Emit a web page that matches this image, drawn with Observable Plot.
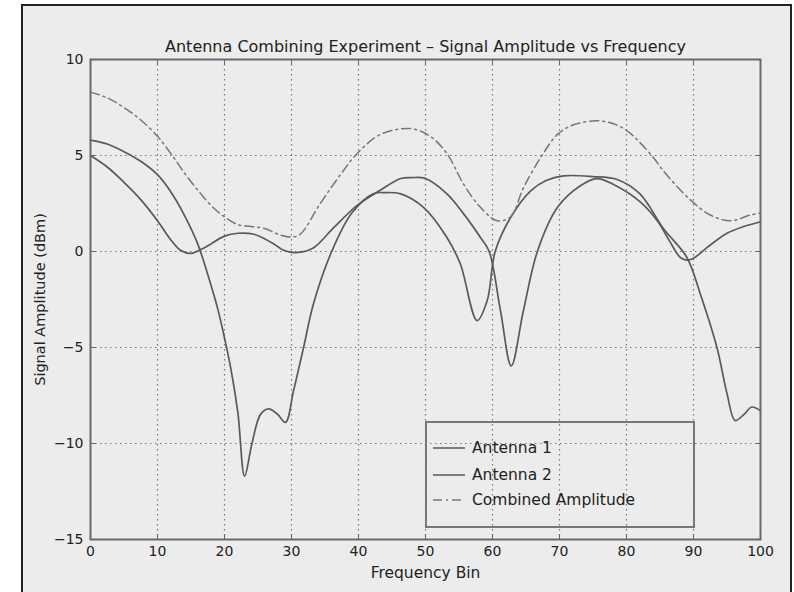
<!DOCTYPE html>
<html><head><meta charset="utf-8">
<script src="https://cdn.jsdelivr.net/npm/d3@7"></script>
<script src="https://cdn.jsdelivr.net/npm/@observablehq/plot@0.6"></script>
<style>
html,body{margin:0;padding:0;background:#fff;}
#wrap{position:relative;width:794px;height:592px;overflow:hidden;}
#panel{position:absolute;left:21px;top:4px;width:767px;height:610px;border:2px solid #222;background:#ececec;}
#chart{position:absolute;left:0;top:0;}
#legend{position:absolute;left:425px;top:421px;width:266px;height:103px;border:2px solid #777;font-family:"DejaVu Sans",sans-serif;font-size:15.5px;color:#222;}
.row{position:absolute;left:0;height:20px;}
.row svg{position:absolute;left:6px;top:0;}
.row span{position:absolute;left:45px;top:1px;white-space:nowrap;}
</style></head><body>
<div id="wrap"><div id="panel"></div><div id="chart"></div><div id="legend"></div></div>
<script>
const titleText = "Antenna Combining Experiment \u2013 Signal Amplitude vs Frequency";
const xLabel = "Frequency Bin";
const yLabel = "Signal Amplitude (dBm)";
const seriesNames = ["Antenna 1", "Antenna 2", "Combined Amplitude"];
const xTicks = [0, 10, 20, 30, 40, 50, 60, 70, 80, 90, 100];
const yTicks = [-15, -10, -5, 0, 5, 10];

const ant1Freq = [0, 2.5, 5, 7.5, 10, 12, 13.5, 15, 17, 20, 22, 24.4, 27, 29, 31, 33.3, 36.3, 39.8, 43.3, 46.3, 48, 50, 53.2, 55.7, 58.2, 59.5, 61.2, 62.8, 64.6, 66.7, 69.7, 73, 75.6, 78, 82, 84.6, 86.5, 88, 89, 90, 92, 95, 97.5, 100];
const ant1Amp  = [5.0, 4.4, 3.6, 2.7, 1.6, 0.6, 0.05, -0.1, 0.2, 0.8, 0.95, 0.9, 0.47, 0.04, -0.05, 0.2, 1.24, 2.4, 3.2, 3.8, 3.85, 3.8, 3.0, 1.96, 0.73, 0.0, -3.1, -5.96, -3.1, 0.0, 2.3, 3.4, 3.8, 3.5, 2.6, 1.6, 0.5, -0.3, -0.45, -0.35, 0.2, 0.95, 1.3, 1.55];

const ant2Freq = [0, 2.5, 5, 7.5, 10, 12, 14, 16, 17.5, 19, 20, 21, 22, 23, 24.1, 25.4, 26.6, 27.9, 29.1, 30.3, 31.8, 33.3, 36, 39, 42.2, 44, 46.3, 49.7, 53.2, 55.2, 57.7, 59.2, 60.4, 62.7, 65.7, 68, 70.6, 75, 78.6, 82, 85.5, 89, 91, 93.5, 95, 96.2, 97.5, 98.7, 100];
const ant2Amp  = [5.8, 5.6, 5.2, 4.7, 4.0, 3.1, 1.9, 0.4, -1.2, -3.0, -4.5, -6.2, -8.4, -11.7, -10.0, -8.47, -8.2, -8.47, -8.9, -7.26, -5.0, -2.7, 0.0, 2.0, 3.0, 3.07, 3.0, 2.3, 0.73, -0.65, -3.6, -2.57, 0.0, 1.77, 3.16, 3.7, 3.94, 3.9, 3.75, 3.0, 1.2, -0.3, -2.2, -5.0, -7.4, -8.8, -8.5, -8.1, -8.3];

const combFreq = [0, 2.5, 5, 7.5, 10, 12, 14, 16, 18, 20, 22, 24, 26, 28, 30, 31.3, 34.3, 37.3, 39.8, 43.3, 47.8, 50.7, 53.2, 55.7, 58.2, 60.7, 62.7, 64.6, 67.2, 69.7, 72.1, 76, 79.6, 84, 85.5, 89.5, 92.5, 95.5, 98.5, 100];
const combAmp  = [8.3, 8.0, 7.5, 6.85, 6.0, 5.1, 4.1, 3.2, 2.4, 1.8, 1.4, 1.3, 1.2, 0.9, 0.75, 0.9, 2.5, 4.0, 5.1, 6.1, 6.4, 6.0, 5.1, 3.5, 2.3, 1.6, 1.8, 3.3, 4.9, 6.1, 6.6, 6.8, 6.4, 4.9, 4.2, 2.7, 1.9, 1.6, 1.9, 2.0];

const toRows = (fs, vs) => fs.map((f, i) => ({f, v: vs[i]}));
const ant1 = toRows(ant1Freq, ant1Amp);
const ant2 = toRows(ant2Freq, ant2Amp);
const comb = toRows(combFreq, combAmp);

const font = '"DejaVu Sans", sans-serif';
const lineColor = "#5a5a5a";
const dashComb = "9,4,2,4";

const chart = Plot.plot({
  width: 794, height: 592,
  marginLeft: 90, marginRight: 34, marginTop: 59, marginBottom: 53,
  x: {domain: [0, 100]},
  y: {domain: [-15, 10]},
  style: {background: "transparent", fontFamily: font, fontSize: "14px", color: "#222"},
  marks: [
    Plot.ruleX(xTicks.slice(1, -1), {stroke: "#777", strokeDasharray: "1.5,3.5", strokeWidth: 1.2}),
    Plot.ruleY(yTicks.slice(1, -1), {stroke: "#777", strokeDasharray: "1.5,3.5", strokeWidth: 1.2}),
    Plot.line(ant1, {x: "f", y: "v", curve: "catmull-rom", stroke: lineColor, strokeWidth: 1.7}),
    Plot.line(ant2, {x: "f", y: "v", curve: "catmull-rom", stroke: lineColor, strokeWidth: 1.7}),
    Plot.line(comb, {x: "f", y: "v", curve: "catmull-rom", stroke: "#777", strokeWidth: 1.5, strokeDasharray: dashComb}),
    Plot.frame({stroke: "#6a6a6a", strokeWidth: 2}),
    Plot.axisX(xTicks, {anchor: "bottom", tickSize: 0, tickPadding: 7, fontSize: 14, label: null}),
    Plot.axisY(yTicks, {anchor: "left", tickSize: 0, tickPadding: 7, fontSize: 14, label: null}),
    Plot.axisX(xTicks, {anchor: "bottom", tickSize: -5, tickFormat: () => "", label: null, stroke: "#666"}),
    Plot.axisX(xTicks, {anchor: "top", tickSize: -5, tickFormat: () => "", label: null, stroke: "#666"}),
    Plot.axisY(yTicks, {anchor: "left", tickSize: -5, tickFormat: () => "", label: null, stroke: "#666"}),
    Plot.axisY(yTicks, {anchor: "right", tickSize: -5, tickFormat: () => "", label: null, stroke: "#666"}),
    Plot.text([xLabel], {frameAnchor: "bottom", dy: 38, fontSize: 15.5, fill: "#222"}),
    Plot.text([yLabel], {frameAnchor: "left", textAnchor: "middle", dx: -50, rotate: -90, fontSize: 14.5, fill: "#222"}),
    Plot.text([titleText], {frameAnchor: "top", dy: -19, fontSize: 16, fill: "#222"})
  ]
});
document.getElementById("chart").appendChild(chart);

// legend (HTML overlay)
const legend = document.getElementById("legend");
const legendStyles = [
  {dash: null, color: lineColor},
  {dash: null, color: lineColor},
  {dash: dashComb, color: "#777"}
];
const rowTops = [15, 42, 67];
seriesNames.forEach((name, i) => {
  const row = document.createElement("div");
  row.className = "row";
  row.style.top = rowTops[i] + "px";
  const s = legendStyles[i];
  row.innerHTML = `<svg width="34" height="20"><line x1="0" y1="10" x2="32" y2="10" stroke="${s.color}" stroke-width="1.5" ${s.dash ? `stroke-dasharray="${s.dash}"` : ""}/></svg><span>${name}</span>`;
  legend.appendChild(row);
});
</script>
</body></html>
